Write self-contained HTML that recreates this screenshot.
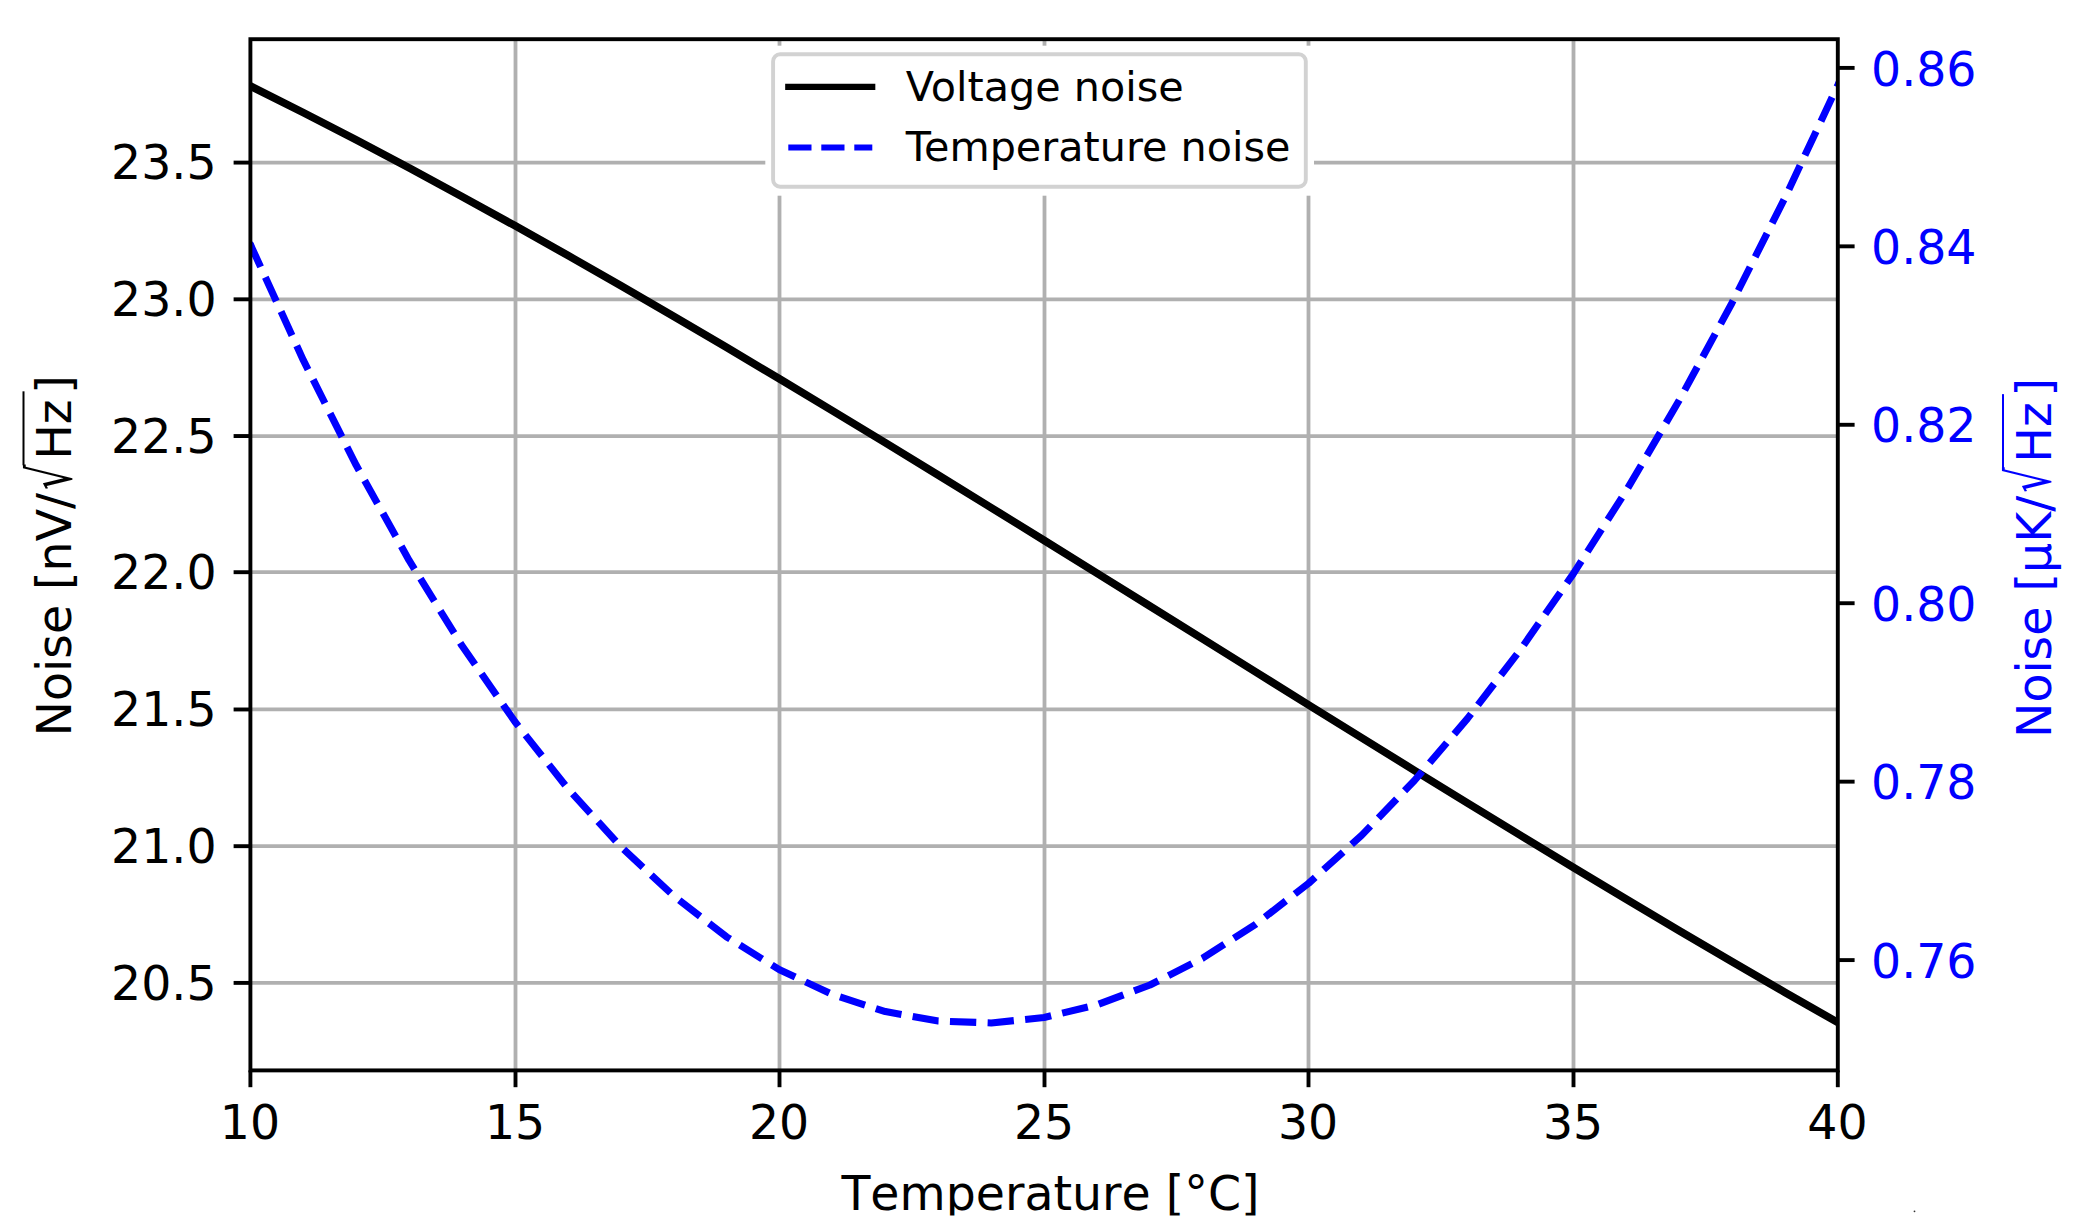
<!DOCTYPE html><html><head><meta charset="utf-8"><title>Noise vs temperature</title>
<style>html,body{margin:0;padding:0;background:#fff}svg{display:block}text{font-family:"DejaVu Sans","Liberation Sans",sans-serif}</style></head><body>
<svg width="2083" height="1231" viewBox="0 0 2083 1231">
<rect width="2083" height="1231" fill="#fff"/>
<defs><clipPath id="ax"><rect x="250.4" y="39.2" width="1587.40" height="1031.20"/></clipPath></defs>
<g stroke="#b0b0b0" stroke-width="3.8" fill="none">
<line x1="515.5" y1="39.2" x2="515.5" y2="1070.4"/>
<line x1="779.5" y1="39.2" x2="779.5" y2="1070.4"/>
<line x1="1044.5" y1="39.2" x2="1044.5" y2="1070.4"/>
<line x1="1308.5" y1="39.2" x2="1308.5" y2="1070.4"/>
<line x1="1573.5" y1="39.2" x2="1573.5" y2="1070.4"/>
<line x1="250.4" y1="162.60" x2="1837.8" y2="162.60"/>
<line x1="250.4" y1="299.32" x2="1837.8" y2="299.32"/>
<line x1="250.4" y1="436.03" x2="1837.8" y2="436.03"/>
<line x1="250.4" y1="572.20" x2="1837.8" y2="572.20"/>
<line x1="250.4" y1="709.47" x2="1837.8" y2="709.47"/>
<line x1="250.4" y1="846.18" x2="1837.8" y2="846.18"/>
<line x1="250.4" y1="982.90" x2="1837.8" y2="982.90"/>
</g>
<g clip-path="url(#ax)" fill="none" stroke-linejoin="round">
<polyline points="197.49,60.15 250.40,86.02 303.31,112.63 356.23,139.95 409.14,167.93 462.05,196.54 514.97,225.72 567.88,255.45 620.79,285.67 673.71,316.35 726.62,347.44 779.53,378.91 832.45,410.70 885.36,442.79 938.27,475.12 991.19,507.66 1044.10,540.37 1097.01,573.20 1149.93,606.11 1202.84,639.06 1255.75,672.01 1308.67,704.92 1361.58,737.74 1414.49,770.44 1467.41,802.96 1520.32,835.29 1573.23,867.35 1626.15,899.13 1679.06,930.58 1731.97,961.64 1784.89,992.30 1837.80,1022.49 1890.71,1052.18" stroke="#000" stroke-width="7.7"/>
<polyline points="197.49,118.30 250.40,244.60 303.31,360.15 356.23,465.31 409.14,560.43 462.05,645.82 514.97,721.79 567.88,788.62 620.79,846.59 673.71,895.94 726.62,936.91 779.53,969.71 832.45,994.54 885.36,1011.58 938.27,1021.00 991.19,1022.93 1044.10,1017.51 1097.01,1004.84 1149.93,985.01 1202.84,958.11 1255.75,924.17 1308.67,883.25 1361.58,835.36 1414.49,780.50 1467.41,718.66 1520.32,649.81 1573.23,573.89 1626.15,490.84 1679.06,400.57 1731.97,302.97 1784.89,197.93 1837.80,85.30 1890.71,-35.07" stroke="#0000ff" stroke-width="7.1" stroke-dasharray="26.32 11.377" stroke-dashoffset="15.65"/>
</g>
<rect x="765.3" y="45.7" width="548.7" height="150.0" fill="#fff"/>
<rect x="773.1" y="54.3" width="532.7" height="132.4" rx="7" ry="7" fill="#fff" stroke="#d2d2d2" stroke-width="3.9"/>
<line x1="788.3" y1="86.8" x2="872.2" y2="86.8" stroke="#000" stroke-width="6.25" stroke-linecap="square"/>
<line x1="788.3" y1="147.5" x2="872.3" y2="147.5" stroke="#0000ff" stroke-width="6.0" stroke-dasharray="23.2 9.8"/>
<text x="905.8" y="101.3" font-size="41.3" fill="#000">Voltage noise</text>
<text x="905.8" y="160.5" font-size="41.3" fill="#000">Temperature noise</text>
<rect x="250.4" y="39.2" width="1587.40" height="1031.20" fill="none" stroke="#000" stroke-width="3.9"/>
<g stroke="#000" stroke-width="3.9">
<line x1="250.4" y1="1070.4" x2="250.4" y2="1087.2"/>
<line x1="515.5" y1="1070.4" x2="515.5" y2="1087.2"/>
<line x1="779.5" y1="1070.4" x2="779.5" y2="1087.2"/>
<line x1="1044.5" y1="1070.4" x2="1044.5" y2="1087.2"/>
<line x1="1308.5" y1="1070.4" x2="1308.5" y2="1087.2"/>
<line x1="1573.5" y1="1070.4" x2="1573.5" y2="1087.2"/>
<line x1="1837.8" y1="1070.4" x2="1837.8" y2="1087.2"/>
<line x1="250.4" y1="162.60" x2="233.6" y2="162.60"/>
<line x1="250.4" y1="299.32" x2="233.6" y2="299.32"/>
<line x1="250.4" y1="436.03" x2="233.6" y2="436.03"/>
<line x1="250.4" y1="572.20" x2="233.6" y2="572.20"/>
<line x1="250.4" y1="709.47" x2="233.6" y2="709.47"/>
<line x1="250.4" y1="846.18" x2="233.6" y2="846.18"/>
<line x1="250.4" y1="982.90" x2="233.6" y2="982.90"/>
<line x1="1837.8" y1="67.90" x2="1854.6" y2="67.90"/>
<line x1="1837.8" y1="246.34" x2="1854.6" y2="246.34"/>
<line x1="1837.8" y1="424.78" x2="1854.6" y2="424.78"/>
<line x1="1837.8" y1="603.22" x2="1854.6" y2="603.22"/>
<line x1="1837.8" y1="781.66" x2="1854.6" y2="781.66"/>
<line x1="1837.8" y1="960.10" x2="1854.6" y2="960.10"/>
</g>
<g font-size="47.4" fill="#000" text-anchor="middle">
<text x="250.0" y="1138.6">10</text>
<text x="515.1" y="1138.6">15</text>
<text x="779.1" y="1138.6">20</text>
<text x="1044.1" y="1138.6">25</text>
<text x="1308.1" y="1138.6">30</text>
<text x="1573.1" y="1138.6">35</text>
<text x="1837.4" y="1138.6">40</text>
</g>
<g font-size="47.4" fill="#000" text-anchor="end">
<text x="216.6" y="179.2">23.5</text>
<text x="216.6" y="315.9">23.0</text>
<text x="216.6" y="452.6">22.5</text>
<text x="216.6" y="589.3">22.0</text>
<text x="216.6" y="726.1">21.5</text>
<text x="216.6" y="862.8">21.0</text>
<text x="216.6" y="999.5">20.5</text>
</g>
<g font-size="47.4" fill="#0000ff" text-anchor="start">
<text x="1871.0" y="85.5">0.86</text>
<text x="1871.0" y="263.9">0.84</text>
<text x="1871.0" y="442.4">0.82</text>
<text x="1871.0" y="620.8">0.80</text>
<text x="1871.0" y="799.3">0.78</text>
<text x="1871.0" y="977.7">0.76</text>
</g>
<text x="841.4" y="1209.6" font-size="47.4" fill="#000" style="font-kerning:none">Temperature [°C]</text>
<g transform="translate(71.4,736.4) rotate(-90)" fill="#000" font-size="47.4" style="font-kerning:none">
<text x="0" y="0">Noise [nV/</text>
<text transform="translate(246.50,-0.5) scale(0.844,1.256)" x="0" y="0">√</text>
<line x1="271.08" y1="-47.9" x2="345.08" y2="-47.9" stroke="#000" stroke-width="2.0"/>
<text x="276.58" y="0">Hz</text>
<text x="342.68" y="0">]</text>
</g>
<g transform="translate(2050.9,738.0) rotate(-90)" fill="#0000ff" font-size="47.4" style="font-kerning:none">
<text x="0" y="0">Noise [µK/</text>
<text transform="translate(245.28,-0.5) scale(0.844,1.256)" x="0" y="0">√</text>
<line x1="269.86" y1="-47.9" x2="343.86" y2="-47.9" stroke="#0000ff" stroke-width="2.0"/>
<text x="275.36" y="0">Hz</text>
<text x="341.46" y="0">]</text>
</g>
<rect x="0" y="1215.5" width="2083" height="16" fill="#fff"/>
<circle cx="1914.5" cy="1211.3" r="0.9" fill="#333"/>
</svg></body></html>
